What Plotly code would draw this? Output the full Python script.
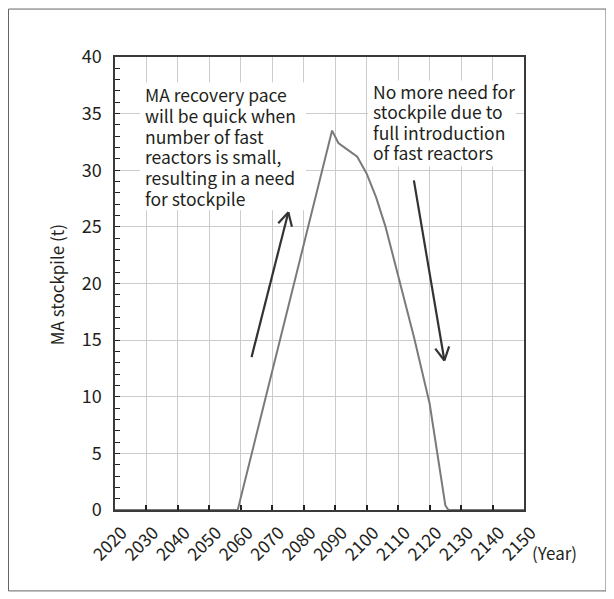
import math
import plotly.graph_objects as go

# ---- data ----
years = [2020, 2030, 2040, 2050, 2059, 2089, 2091, 2093, 2097, 2100, 2103, 2106, 2110, 2115, 2120, 2125, 2126, 2130, 2140, 2150]
stock = [0, 0, 0, 0, 0, 33.5, 32.4, 32.0, 31.2, 29.7, 27.6, 25.0, 20.8, 15.3, 9.4, 0.4, 0, 0, 0, 0]
x_ticks = list(range(2020, 2151, 10))
y_ticks = list(range(0, 41, 5))
left_note = ["MA recovery pace", "will be quick when", "number of fast",
             "reactors is small,", "resulting in a need", "for stockpile"]
right_note = ["No more need for", "stockpile due to", "full introduction", "of fast reactors"]
# arrows: (tail_year, tail_t, head_year, head_t)
arrow_up = (2063.4, 13.5, 2075.1, 26.3)
arrow_down = (2115.0, 29.1, 2124.7, 13.2)

# ---- layout geometry (screen pixels; page body adds an 8px offset) ----
OFF = 8
SW, SH = 614, 599
W, H = SW - OFF, SH - OFF
L, R, T, B = 115, 524, 56.5, 510          # plot area on screen
XMIN, XMAX, YMIN, YMAX = 2020, 2150, 0, 40
pxy = (R - L) / (XMAX - XMIN)
pyt = (B - T) / (YMAX - YMIN)

def to_x(px):
    return XMIN + (px - L) / pxy

def to_y(py):
    return YMIN + (B - py) / pyt

def paper_x(px):
    return (px - L) / (R - L)

def paper_y(py):
    return (B - py) / (B - T)

INK = "#231f20"
FONT = "Noto Sans CJK JP"

fig = go.Figure()
fig.add_trace(go.Scatter(x=years, y=stock, mode="lines",
                         line=dict(color="#7a7a7a", width=2), hoverinfo="skip",
                         showlegend=False))

shapes = []
# white blocks behind notes (cover grid)
shapes.append(dict(type="rect", xref="x", yref="y", layer="between",
                   x0=to_x(140), x1=to_x(306), y0=to_y(210), y1=to_y(82),
                   fillcolor="white", line=dict(width=0)))
shapes.append(dict(type="rect", xref="x", yref="y", layer="between",
                   x0=to_x(368), x1=to_x(516), y0=to_y(166), y1=to_y(80),
                   fillcolor="white", line=dict(width=0)))

def add_arrow(a):
    x0, y0, x1, y1 = a
    shapes.append(dict(type="line", xref="x", yref="y", x0=x0, y0=y0, x1=x1, y1=y1,
                       line=dict(color="#333333", width=2.2)))
    dx = (x0 - x1) * pxy
    dy = (y0 - y1) * pyt
    ln = math.hypot(dx, dy)
    ux, uy = dx / ln, dy / ln
    for ang in (28, -28):
        r = math.radians(ang)
        vx = ux * math.cos(r) - uy * math.sin(r)
        vy = ux * math.sin(r) + uy * math.cos(r)
        shapes.append(dict(type="line", xref="x", yref="y", x0=x1, y0=y1,
                           x1=x1 + vx * 15 / pxy, y1=y1 + vy * 15 / pyt,
                           line=dict(color="#333333", width=2.2)))

add_arrow(arrow_up)
add_arrow(arrow_down)

# outer frame
shapes.append(dict(type="rect", xref="paper", yref="paper",
                   x0=paper_x(8.5), x1=paper_x(606), y0=paper_y(591), y1=paper_y(8.5),
                   line=dict(color="#666666", width=1), fillcolor="rgba(0,0,0,0)"))

annotations = []
for i, s in enumerate(left_note):
    annotations.append(dict(text=s, xref="x", yref="y", x=to_x(143), y=to_y(94 + i * 20.8),
                            xanchor="left", yanchor="middle", showarrow=False,
                            font=dict(family=FONT, size=17.5, color=INK)))
for i, s in enumerate(right_note):
    annotations.append(dict(text=s, xref="x", yref="y", x=to_x(371), y=to_y(91 + i * 20.5),
                            xanchor="left", yanchor="middle", showarrow=False,
                            font=dict(family=FONT, size=17.5, color=INK)))
annotations.append(dict(text="(Year)", xref="paper", yref="paper", x=paper_x(530), y=paper_y(553),
                        xanchor="left", yanchor="middle", showarrow=False,
                        font=dict(family=FONT, size=17, color=INK)))
annotations.append(dict(text="MA stockpile (t)", xref="paper", yref="paper", x=paper_x(56), y=paper_y(285),
                        xanchor="center", yanchor="middle", showarrow=False, textangle=-90,
                        font=dict(family=FONT, size=17, color=INK)))

fig.update_layout(
    width=W, height=H,
    margin=dict(l=L - OFF, r=SW - R, t=T - OFF, b=SH - B),
    paper_bgcolor="white", plot_bgcolor="white",
    shapes=shapes, annotations=annotations,
    font=dict(family=FONT, color=INK),
    xaxis=dict(range=[XMIN, XMAX], tickmode="array", tickvals=x_ticks,
               ticktext=[str(v) for v in x_ticks], tickangle=-45,
               ticks="inside", ticklen=5, tickcolor=INK, tickwidth=1.5,
               showgrid=True, gridcolor="#cccccc", gridwidth=1,
               showline=True, linecolor="#3a3a3a", linewidth=1.5, mirror=True,
               zeroline=False, ticklabelstandoff=4, ticklabelshift=7,
               tickfont=dict(family=FONT, size=17.5, color=INK)),
    yaxis=dict(range=[YMIN, YMAX], tickmode="array", tickvals=y_ticks,
               ticks="inside", ticklen=5, tickcolor=INK, tickwidth=1,
               minor=dict(dtick=1, ticks="inside", ticklen=5, tickcolor=INK, showgrid=False),
               showgrid=True, gridcolor="#cccccc", gridwidth=1,
               showline=True, linecolor="#3a3a3a", linewidth=1.5, mirror=True,
               zeroline=False, ticklabelstandoff=8,
               tickfont=dict(family=FONT, size=18, color=INK)),
)

fig.write_html("out.html")
